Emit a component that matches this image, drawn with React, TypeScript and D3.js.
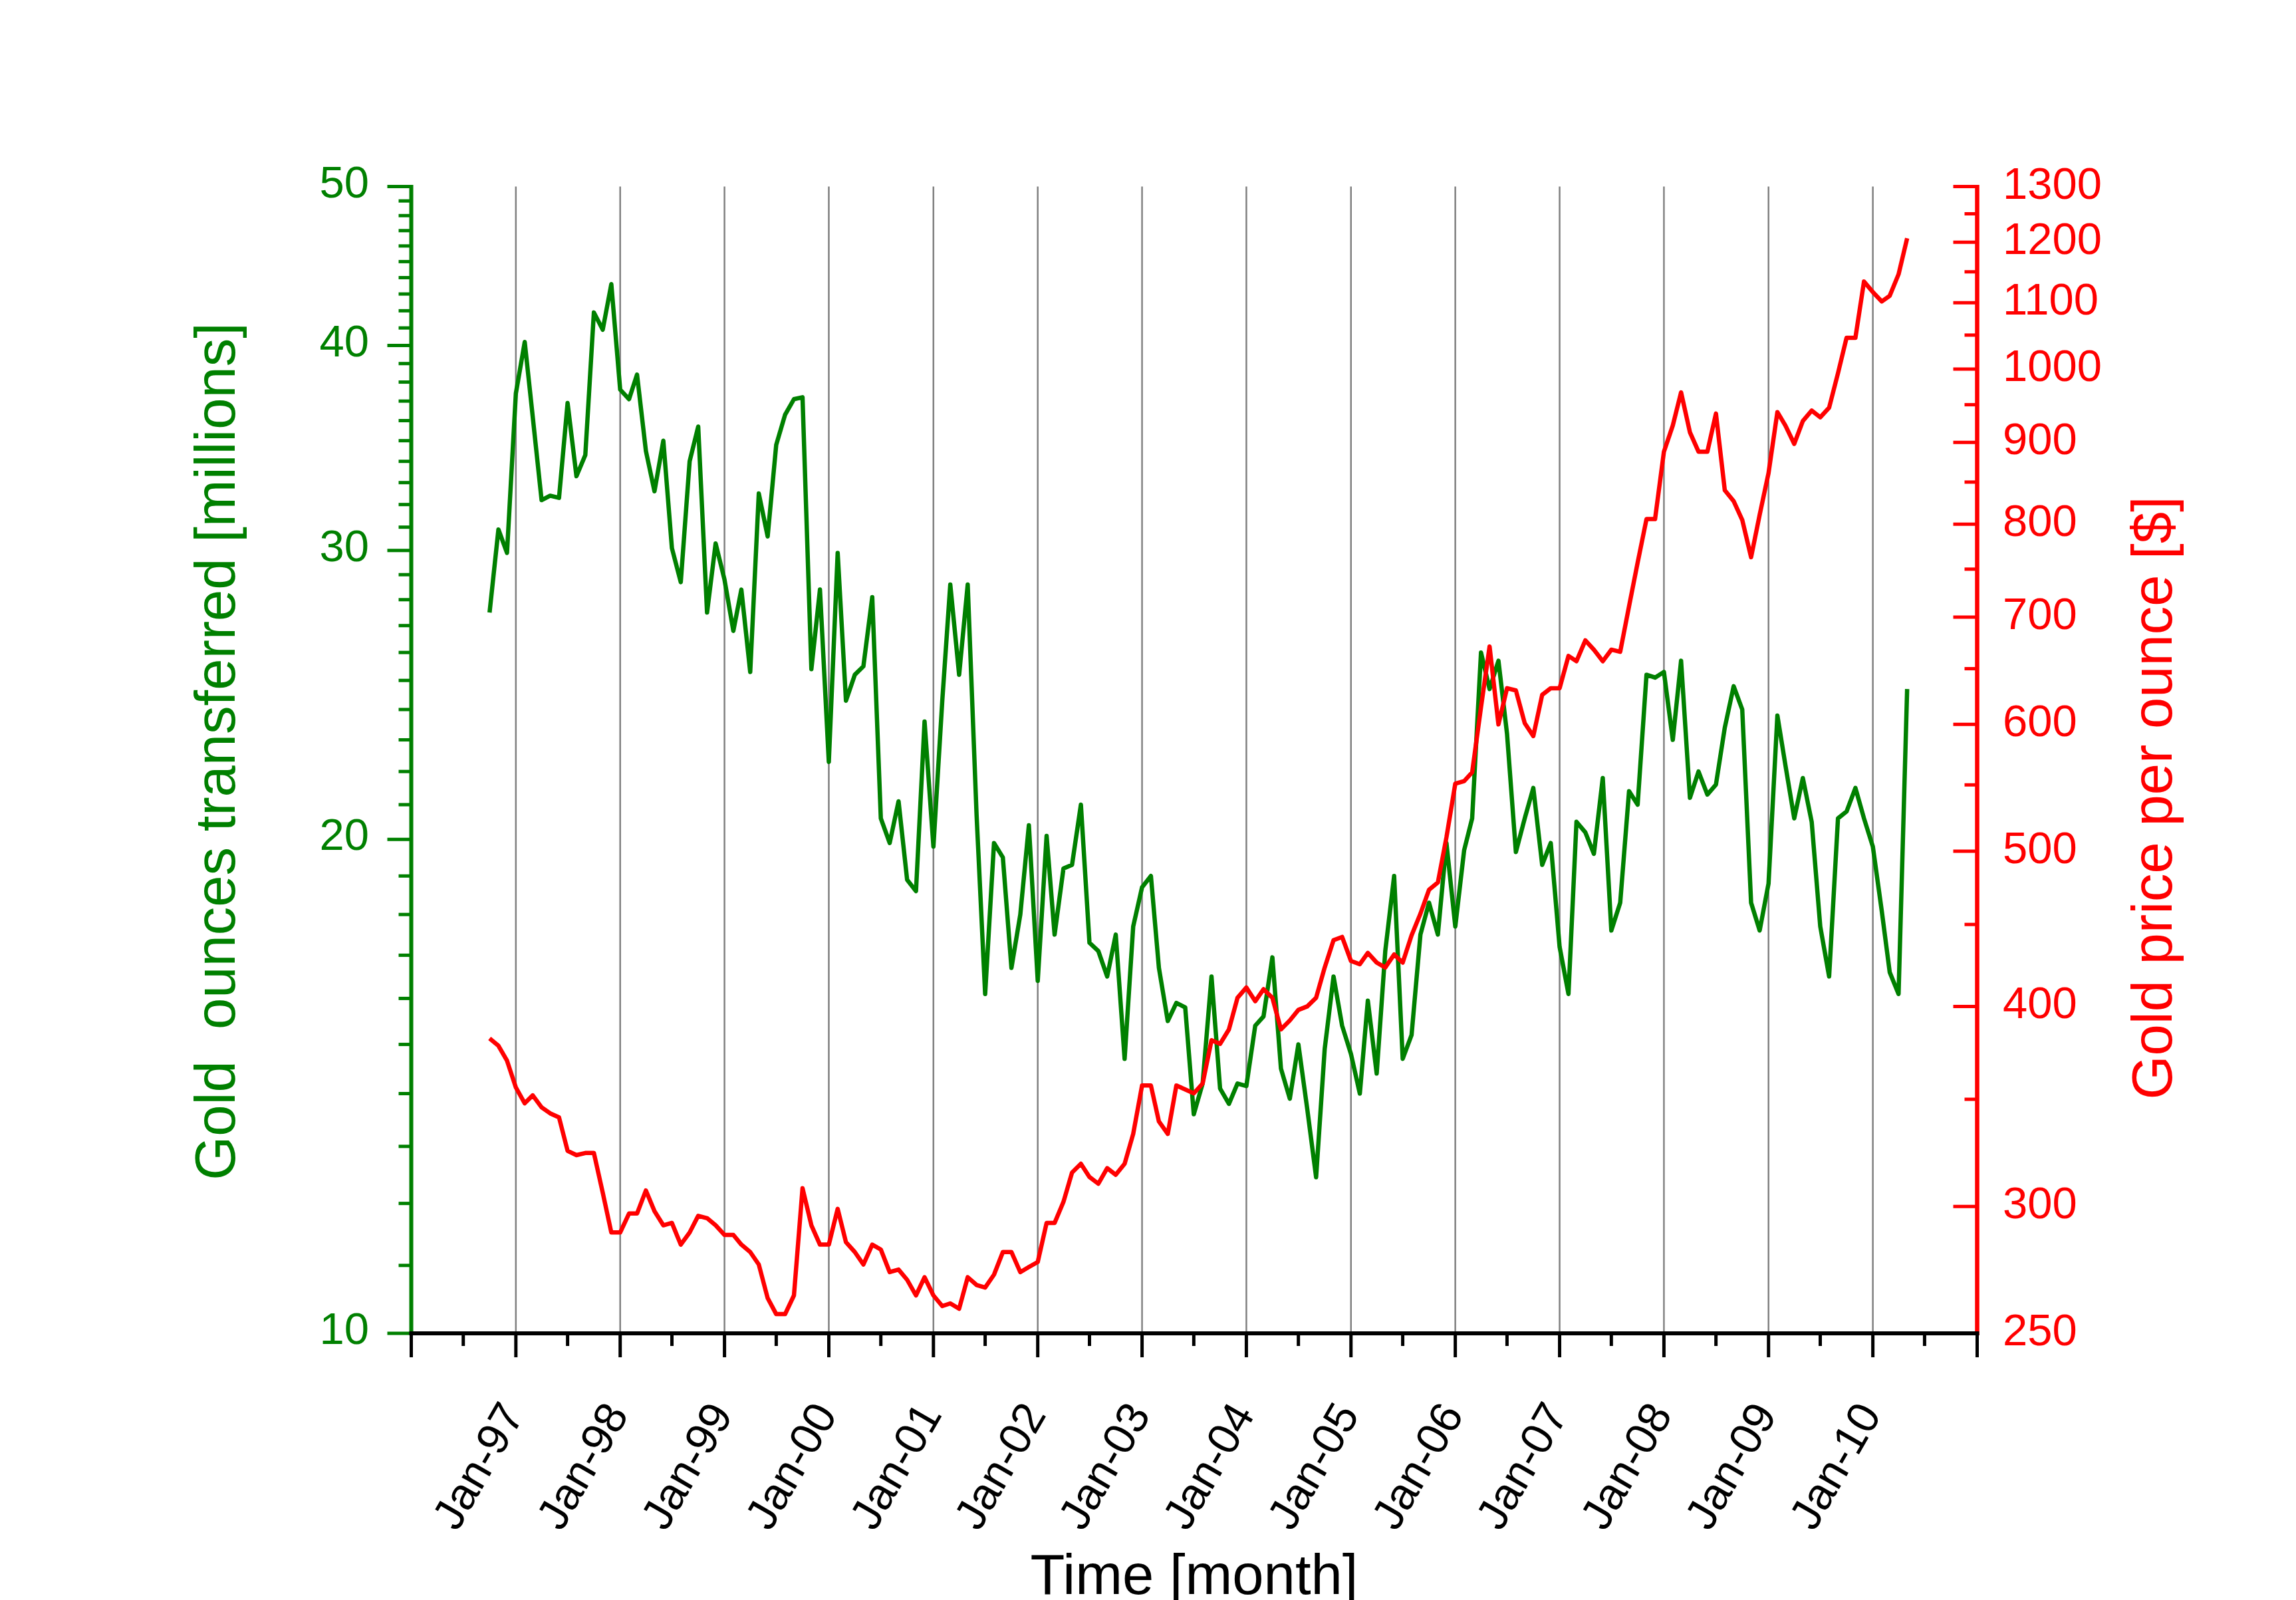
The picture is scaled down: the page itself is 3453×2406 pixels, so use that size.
import React from "react";
import * as d3 from "d3";

// monthly values, Oct-96 .. May-10
const firstMonth = new Date(1996, 9, 1);

const ouncesTransferred = [
  27.5, 30.9, 29.9,
  37.4, 40.2, 36.2, 32.2, 32.4, 32.3, 36.9, 33.3, 34.3, 41.9, 40.9, 43.6,
  37.6, 37.1, 38.4, 34.5, 32.6, 35.0, 30.1, 28.7, 34.0, 35.7, 27.5, 30.3,
  28.8, 26.8, 28.4, 25.3, 32.5, 30.6, 34.8, 36.3, 37.1, 37.2, 25.4, 28.4,
  22.3, 29.9, 24.3, 25.2, 25.5, 28.1, 20.6, 19.9, 21.1, 18.9, 18.6, 23.6,
  19.8, 24.3, 28.6, 25.2, 28.6, 20.7, 16.1, 19.9, 19.5, 16.7, 18.0, 20.4,
  16.4, 20.1, 17.5, 19.2, 19.3, 21.0, 17.3, 17.1, 16.5, 17.5, 14.7, 17.7,
  18.7, 19.0, 16.7, 15.5, 15.9, 15.8, 13.6, 14.2, 16.5, 14.1, 13.8, 14.2,
  14.15, 15.4, 15.6, 16.95, 14.5, 13.9, 15.0, 13.7, 12.45, 14.9, 16.5, 15.4,
  14.8, 14.0, 15.95, 14.4, 17.1, 19.0, 14.7, 15.2, 17.5, 18.3, 17.5, 19.9,
  17.7, 19.7, 20.6, 26.0, 24.7, 25.7, 23.2, 19.65, 20.6, 21.5, 19.3, 19.9,
  17.2, 16.1, 20.5, 20.2, 19.6, 21.8, 17.6, 18.3, 21.4, 21.0, 25.2, 25.1,
  25.3, 23.0, 25.7, 21.2, 22.0, 21.3, 21.6, 23.4, 24.8, 24.0, 18.3, 17.6,
  18.8, 23.8, 22.2, 20.6, 21.8, 20.5, 17.7, 16.5, 20.6, 20.8, 21.5, 20.6,
  19.8, 18.1, 16.6, 16.1, 24.7,
];

const goldPrice = [
  382, 378, 370,
  356, 348, 352, 346, 343, 341, 325, 323, 324, 324, 306, 289,
  289, 297, 297, 307, 298, 292, 293, 284, 289, 296, 295, 292,
  288, 288, 284, 281, 276, 263, 257, 257, 264, 308, 292, 284,
  284, 299, 285, 281, 276, 284, 282, 273, 274, 270, 264, 271,
  264, 260, 261, 259, 271, 268, 267, 272, 281, 281, 273, 275,
  277, 293, 293, 302, 315, 319, 313, 310, 317, 314, 319, 333,
  357, 357, 339, 333, 357, 355, 353, 358, 381, 379, 387, 405,
  411, 403, 410, 405, 387, 392, 398, 400, 405, 423, 440, 442,
  427, 425, 432, 426, 423, 431, 426, 443, 457, 473, 478, 510,
  551, 553, 560, 615, 671, 600, 632, 630, 601, 590, 626, 632,
  632, 662, 657, 677, 668, 657, 668, 666, 711, 757, 806, 806,
  888, 922, 967, 913, 888, 888, 938, 840, 827, 805, 763, 811,
  861, 940, 922, 898, 928, 942, 933, 946, 994, 1046, 1046, 1134,
  1117, 1102, 1111, 1146, 1207,
];

const leftLabels = [10, 20, 30, 40, 50];
const rightLabels = [250, 300, 400, 500, 600, 700, 800, 900, 1000, 1100, 1200, 1300];
const rightMinor = [350, 450, 550, 650, 750, 850, 950, 1050, 1150, 1250];
const labelYears = [1997, 1998, 1999, 2000, 2001, 2002, 2003, 2004, 2005, 2006, 2007, 2008, 2009, 2010];

const GREEN = "#008000";
const RED = "#ff0000";
const font = "'Liberation Sans', Arial, sans-serif";

const App = () => {
  const width = 3453;
  const height = 2406;
  const left = 618.5;
  const right = 2973.5;
  const top = 280.5;
  const bottom = 2005;
  const major = 36;
  const minor = 19;

  const x = d3
    .scaleTime()
    .domain([new Date(1996, 0, 1), new Date(2011, 0, 1)])
    .range([left, right]);
  const yL = d3.scaleLog().domain([10, 50]).range([bottom, top]);
  const yR = d3.scaleLog().domain([250, 1300]).range([bottom, top]);

  const months = ouncesTransferred.map((_, i) => d3.timeMonth.offset(firstMonth, i));
  const greenLine = d3
    .line<number>()
    .x((_, i) => x(months[i]))
    .y((d) => yL(d));
  const redLine = d3
    .line<number>()
    .x((_, i) => x(months[i]))
    .y((d) => yR(d));

  const fmt = d3.timeFormat("%b-%y");
  const yearTicks = d3.range(1996, 2012).map((y) => new Date(y, 0, 1));
  const halfTicks = d3.range(1996, 2011).map((y) => new Date(y, 6, 1));
  const leftMinor = d3.range(11, 50).filter((v) => !leftLabels.includes(v));

  return (
    <svg
      width={width}
      height={height}
      style={{ position: "absolute", left: 0, top: 0, background: "#fff" }}
      fontFamily={font}
    >
      <rect width={width} height={height} fill="#fff" />

      {/* vertical grid */}
      {labelYears.map((y) => (
        <line
          key={"g" + y}
          x1={x(new Date(y, 0, 1))}
          x2={x(new Date(y, 0, 1))}
          y1={top}
          y2={bottom}
          stroke="#808080"
          strokeWidth={2.5}
        />
      ))}

      <path d={greenLine(ouncesTransferred)!} fill="none" stroke={GREEN} strokeWidth={6.5} strokeLinejoin="round" />
      <path d={redLine(goldPrice)!} fill="none" stroke={RED} strokeWidth={6.5} strokeLinejoin="round" />

      {/* left axis */}
      <g stroke={GREEN} strokeWidth={5}>
        {leftLabels.map((v) => (
          <line key={"lm" + v} x1={left - major} x2={left} y1={yL(v)} y2={yL(v)} />
        ))}
        {leftMinor.map((v) => (
          <line key={"ln" + v} x1={left - minor} x2={left} y1={yL(v)} y2={yL(v)} />
        ))}
        <line x1={left} x2={left} y1={top - 2.5} y2={bottom + 3} strokeWidth={6} />
      </g>
      {leftLabels.map((v) => (
        <text key={"lt" + v} x={555} y={yL(v) + 16} textAnchor="end" fontSize={67} fill={GREEN}>
          {v}
        </text>
      ))}

      {/* right axis */}
      <g stroke={RED} strokeWidth={5}>
        {rightLabels.map((v) => (
          <line key={"rm" + v} x1={right - major} x2={right} y1={yR(v)} y2={yR(v)} />
        ))}
        {rightMinor.map((v) => (
          <line key={"rn" + v} x1={right - minor} x2={right} y1={yR(v)} y2={yR(v)} />
        ))}
        <line x1={right} x2={right} y1={top - 2.5} y2={bottom + 3} strokeWidth={6.5} />
      </g>
      {rightLabels.map((v) => (
        <text key={"rt" + v} x={3012} y={yR(v) + 18} fontSize={67} fill={RED}>
          {v}
        </text>
      ))}

      {/* bottom axis */}
      <g stroke="#000" strokeWidth={5}>
        {yearTicks.map((d) => (
          <line key={"bm" + d.getFullYear()} x1={x(d)} x2={x(d)} y1={bottom} y2={bottom + major} />
        ))}
        {halfTicks.map((d) => (
          <line key={"bn" + d.getFullYear()} x1={x(d)} x2={x(d)} y1={bottom} y2={bottom + minor} />
        ))}
        <line x1={left - 3} x2={right + 3} y1={bottom} y2={bottom} strokeWidth={6} />
      </g>
      {labelYears.map((y) => {
        const d = new Date(y, 0, 1);
        return (
          <text
            key={"bt" + y}
            transform={`translate(${x(d) + 14},${bottom + 122}) rotate(-60)`}
            textAnchor="end"
            fontSize={67}
            fill="#000"
          >
            {fmt(d)}
          </text>
        );
      })}

      {/* axis titles */}
      <text x={(left + right) / 2} y={2397} textAnchor="middle" fontSize={85} fill="#000">
        Time [month]
      </text>
      <text
        transform={`translate(353,1130) rotate(-90)`}
        textAnchor="middle"
        fontSize={85}
        fill={GREEN}
        style={{ whiteSpace: "pre" }}
      >
        {"Gold  ounces transferred [millions]"}
      </text>
      <text
        transform={`translate(3266,1200) rotate(-90)`}
        textAnchor="middle"
        fontSize={85}
        fill={RED}
      >
        Gold price per ounce [$]
      </text>
    </svg>
  );
};

export default App;
